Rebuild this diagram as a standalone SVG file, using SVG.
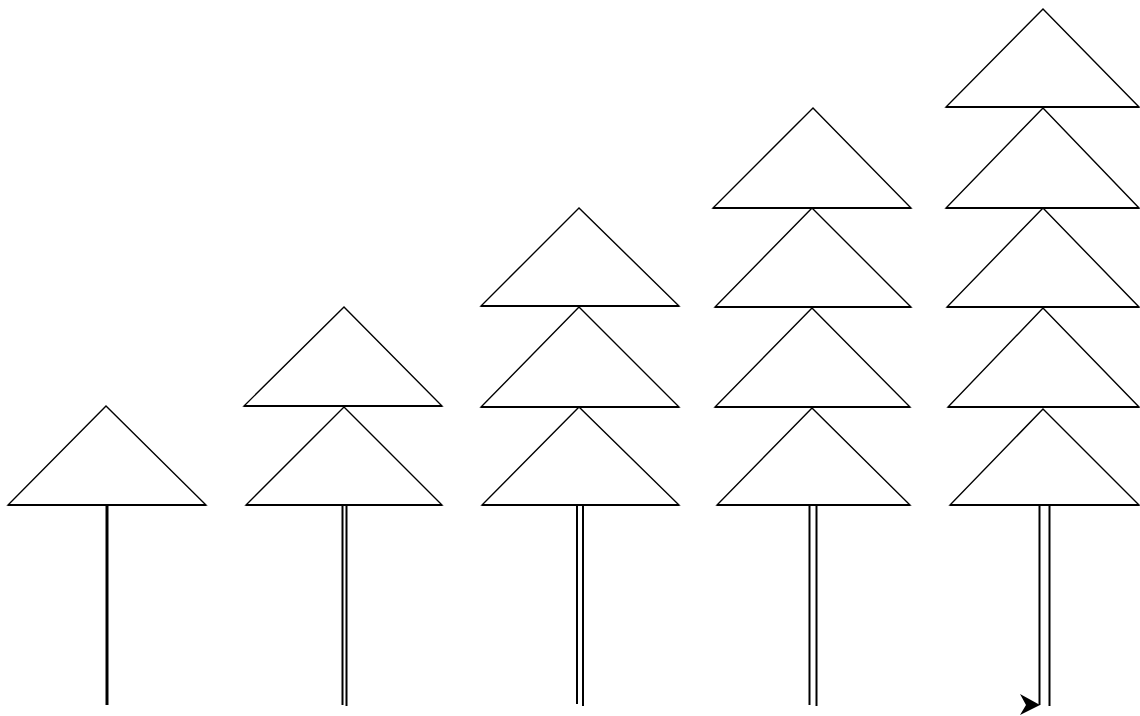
<svg xmlns="http://www.w3.org/2000/svg" width="1140" height="716" viewBox="0 0 1140 716">
<style>
.tri{fill:#fff;stroke:#000;stroke-width:1.4;stroke-linejoin:miter}
.base{stroke:#000;stroke-width:2}
.trunk{stroke:#000;stroke-width:2;fill:none}
.head{fill:#000;stroke:none}
</style>
<rect width="1140" height="716" fill="#fff"/>
<g id="tree1">
<polygon class="tri" points="106,406 8,505 206,505"/>
<line class="base" x1="8" y1="505" x2="206" y2="505"/>
</g>
<g id="tree2">
<polygon class="tri" points="344,407 246,505 442,505"/>
<line class="base" x1="246" y1="505" x2="442" y2="505"/>
<polygon class="tri" points="344,307 244,406 442,406"/>
<line class="base" x1="244" y1="406" x2="442" y2="406"/>
</g>
<g id="tree3">
<polygon class="tri" points="579,407 482,505 679,505"/>
<line class="base" x1="482" y1="505" x2="679" y2="505"/>
<polygon class="tri" points="579,307 481,407 679,407"/>
<line class="base" x1="481" y1="407" x2="679" y2="407"/>
<polygon class="tri" points="579,208 481,306 679,306"/>
<line class="base" x1="481" y1="306" x2="679" y2="306"/>
</g>
<g id="tree4">
<polygon class="tri" points="812,408 717,505 910,505"/>
<line class="base" x1="717" y1="505" x2="910" y2="505"/>
<polygon class="tri" points="812,308 715,407 910,407"/>
<line class="base" x1="715" y1="407" x2="910" y2="407"/>
<polygon class="tri" points="812,208 715,307 911,307"/>
<line class="base" x1="715" y1="307" x2="911" y2="307"/>
<polygon class="tri" points="813,108 713,208 911,208"/>
<line class="base" x1="713" y1="208" x2="911" y2="208"/>
</g>
<g id="tree5">
<polygon class="tri" points="1043,409 950,505 1139,505"/>
<line class="base" x1="950" y1="505" x2="1139" y2="505"/>
<polygon class="tri" points="1043,308 948,407 1139,407"/>
<line class="base" x1="948" y1="407" x2="1139" y2="407"/>
<polygon class="tri" points="1043,208 947,307 1139,307"/>
<line class="base" x1="947" y1="307" x2="1139" y2="307"/>
<polygon class="tri" points="1043,108 946,208 1139,208"/>
<line class="base" x1="946" y1="208" x2="1139" y2="208"/>
<polygon class="tri" points="1043,9 946,107 1139,107"/>
<line class="base" x1="946" y1="107" x2="1139" y2="107"/>
</g>
<g id="connectors">
<line class="trunk" x1="107" y1="506" x2="107" y2="705" style="stroke-width:3"/>
<line class="trunk" x1="342.5" y1="506" x2="342.5" y2="705"/>
<line class="trunk" x1="346.5" y1="506" x2="346.5" y2="706"/>
<line class="trunk" x1="577" y1="506" x2="577" y2="704"/>
<line class="trunk" x1="583" y1="506" x2="583" y2="706"/>
<line class="trunk" x1="809.5" y1="506" x2="809.5" y2="705"/>
<line class="trunk" x1="816.5" y1="506" x2="816.5" y2="706"/>
<line class="trunk" x1="1039.5" y1="506" x2="1039.5" y2="705"/>
<line class="trunk" x1="1049.5" y1="506" x2="1049.5" y2="706"/>
<polygon class="head" points="1040,705 1020,694 1026,705 1020,715"/>
</g>
</svg>
